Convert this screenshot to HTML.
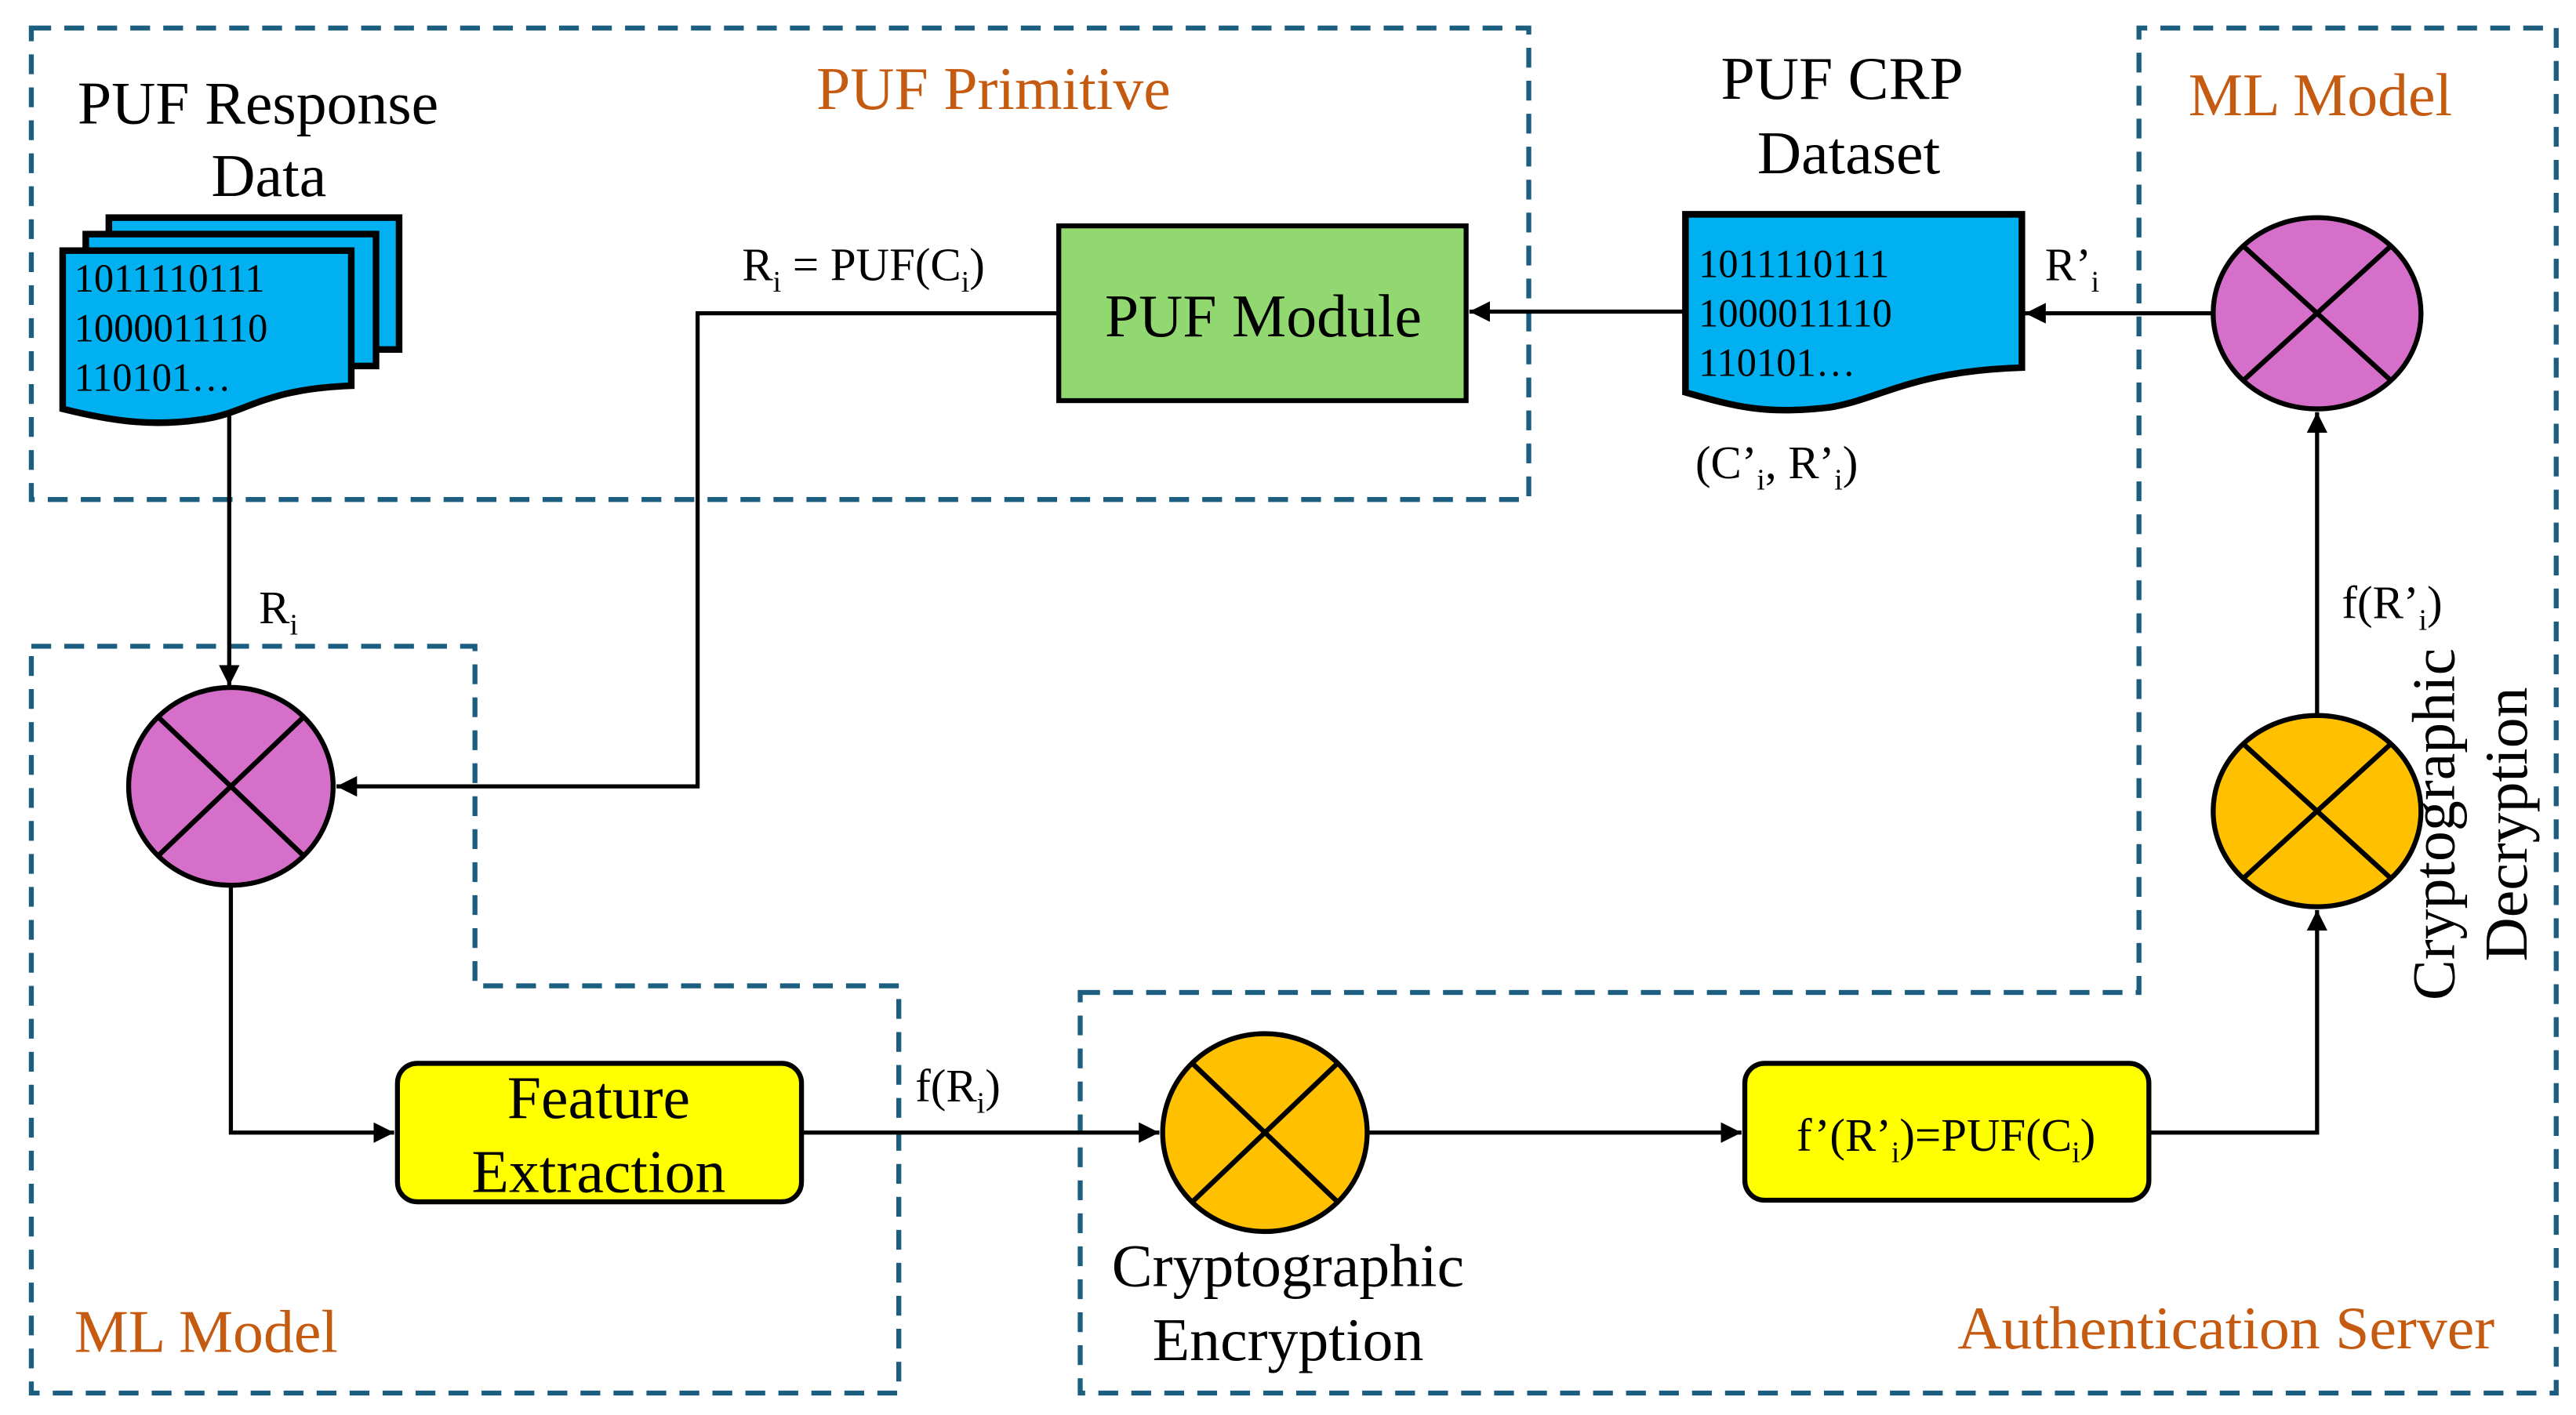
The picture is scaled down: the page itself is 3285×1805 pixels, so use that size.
<!DOCTYPE html>
<html><head><meta charset="utf-8"><style>
html,body{margin:0;padding:0;background:#fff;}
svg{display:block;}
text{font-family:"Liberation Serif","Times New Roman",serif;}
</style></head><body>
<svg width="3285" height="1805" viewBox="0 0 1562 858.3" preserveAspectRatio="none" xmlns="http://www.w3.org/2000/svg">
<defs>
<marker id="ah" viewBox="0 0 10 10" refX="10" refY="5" markerWidth="5" markerHeight="5" orient="auto" markerUnits="strokeWidth"><path d="M0,0 L10,5 L0,10 z" fill="#000"/></marker>
</defs>
<g fill="none" stroke="#1b5e80" stroke-width="3" stroke-dasharray="12,8">
<rect x="19" y="17" width="908" height="286"/>
<path d="M19,392 H288 V598 H545 V845 H19 Z"/>
<path d="M655,602 H1297 V17 H1550 V845 H655 Z"/>
</g>
<g fill="#c55a11" font-size="37">
<text x="495" y="66">PUF Primitive</text>
<text x="1327" y="70">ML Model</text>
<text x="45" y="820">ML Model</text>
<text x="1187" y="818">Authentication Server</text>
</g>
<g font-size="37" fill="#000">
<text x="47" y="75">PUF Response</text>
<text x="163" y="119" text-anchor="middle">Data</text>
<text x="1117" y="60" text-anchor="middle">PUF CRP</text>
<text x="1121" y="105" text-anchor="middle">Dataset</text>
<text x="781" y="780" text-anchor="middle">Cryptographic</text>
<text x="781" y="825" text-anchor="middle">Encryption</text>
<g transform="translate(1488,500) rotate(-90)"><text x="0" y="0" text-anchor="middle">Cryptographic</text><text x="0" y="44" text-anchor="middle">Decryption</text></g>
</g>
<g stroke="#000" stroke-width="4" fill="#00b0f0">
<rect x="66" y="132" width="176" height="80"/>
<rect x="52" y="142" width="176" height="80"/>
<path d="M38,152 H213 V234 C160,236 150,250 125,254 C95,259 70,256 38,248 Z"/>
<path d="M1022,130 H1226 V223 C1160,225 1140,242 1110,247 C1070,252 1050,246 1022,238 Z"/>
</g>
<g font-size="24" fill="#000">
<text x="45" y="177">1011110111</text>
<text x="45" y="207">1000011110</text>
<text x="45" y="237">110101…</text>
<text x="1030" y="168">1011110111</text>
<text x="1030" y="198">1000011110</text>
<text x="1030" y="228">110101…</text>
</g>
<rect x="642" y="137" width="247" height="106" fill="#92d870" stroke="#000" stroke-width="3"/>
<text x="766" y="204" font-size="37" text-anchor="middle">PUF Module</text>
<rect x="241" y="645" width="245" height="84" rx="12" fill="#ffff00" stroke="#000" stroke-width="3"/>
<text x="363" y="678" font-size="37" text-anchor="middle">Feature</text>
<text x="363" y="723" font-size="37" text-anchor="middle">Extraction</text>
<rect x="1058" y="645" width="245" height="83" rx="12" fill="#ffff00" stroke="#000" stroke-width="3"/>
<text x="1180" y="698" font-size="28" text-anchor="middle">f’(R’<tspan font-size="18" dy="7">i</tspan><tspan dy="-7">)=PUF(C</tspan><tspan font-size="18" dy="7">i</tspan><tspan dy="-7">)</tspan></text>
<g stroke="#000" stroke-width="3">
<ellipse cx="140" cy="477" rx="62" ry="60" fill="#d56fc9"/>
<line x1="96" y1="435" x2="184" y2="519"/><line x1="184" y1="435" x2="96" y2="519"/>
<ellipse cx="1405" cy="190" rx="63" ry="58" fill="#d56fc9"/>
<line x1="1360" y1="149" x2="1450" y2="231"/><line x1="1450" y1="149" x2="1360" y2="231"/>
<ellipse cx="1405" cy="492" rx="63" ry="58" fill="#ffc000"/>
<line x1="1360" y1="451" x2="1450" y2="533"/><line x1="1450" y1="451" x2="1360" y2="533"/>
<ellipse cx="767" cy="687" rx="62" ry="60" fill="#ffc000"/>
<line x1="723" y1="645" x2="811" y2="729"/><line x1="811" y1="645" x2="723" y2="729"/>
</g>
<g stroke="#000" stroke-width="2.5" fill="none" marker-end="url(#ah)">
<path d="M139,250 V416"/>
<path d="M642,190 H423 V477 H204"/>
<path d="M1022,189 H891"/>
<path d="M1342,190 H1228"/>
<path d="M1405,433 V250"/>
<path d="M1303,687 H1405 V552"/>
<path d="M829,687 H1056"/>
<path d="M486,687 H703"/>
<path d="M140,537 V687 H239"/>
</g>
<g font-size="28" fill="#000">
<text x="157" y="378">R<tspan font-size="18" dy="7">i</tspan></text>
<text x="450" y="170">R<tspan font-size="18" dy="7">i</tspan><tspan dy="-7"> = PUF(C</tspan><tspan font-size="18" dy="7">i</tspan><tspan dy="-7">)</tspan></text>
<text x="1240" y="170">R’<tspan font-size="18" dy="7">i</tspan></text>
<text x="1028" y="290">(C’<tspan font-size="18" dy="7">i</tspan><tspan dy="-7">, R’</tspan><tspan font-size="18" dy="7">i</tspan><tspan dy="-7">)</tspan></text>
<text x="1420" y="375">f(R’<tspan font-size="18" dy="7">i</tspan><tspan dy="-7">)</tspan></text>
<text x="555" y="668">f(R<tspan font-size="18" dy="7">i</tspan><tspan dy="-7">)</tspan></text>
</g>
</svg>
</body></html>
